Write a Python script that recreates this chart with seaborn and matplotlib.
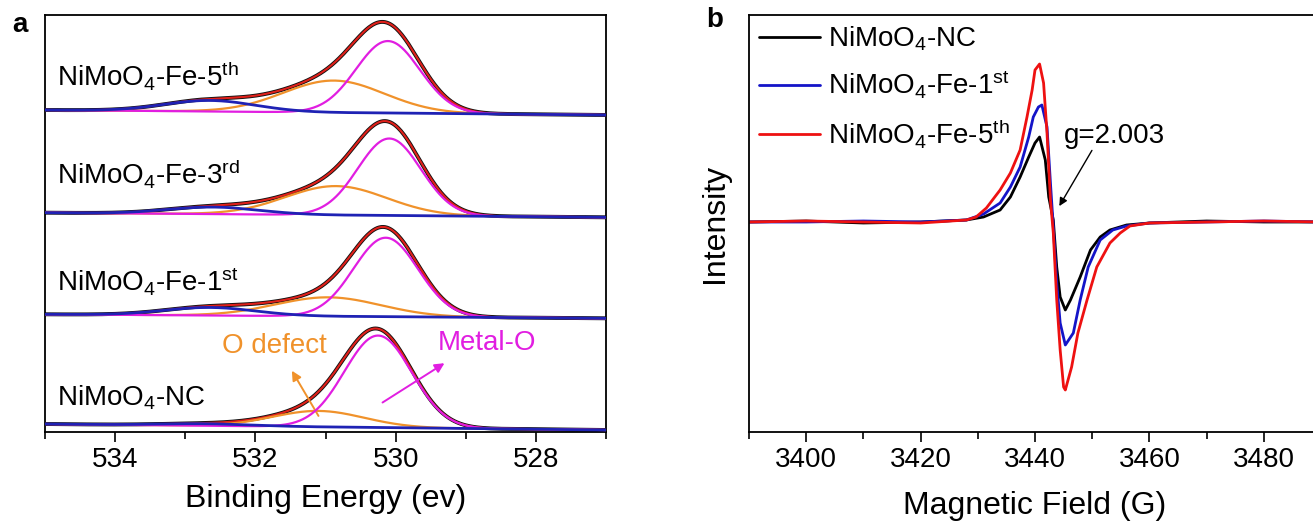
import numpy as np
import pandas as pd
import matplotlib
matplotlib.use("Agg")
import matplotlib.pyplot as plt
import seaborn as sns

# ---------------- Panel a: O 1s XPS peak fits (a.u., stacked) ----------------
samples_a = ["NC", "Fe-1st", "Fe-3rd", "Fe-5th"]
labels_a = [r"NiMoO$_4$-NC",
            r"NiMoO$_4$-Fe-1$^{\mathrm{st}}$",
            r"NiMoO$_4$-Fe-3$^{\mathrm{rd}}$",
            r"NiMoO$_4$-Fe-5$^{\mathrm{th}}$"]
label_y = [26, 141, 249, 347]
# linear background at 535 eV and 527 eV
bg_hi = [8.0, 117.7, 219.3, 322.0]
bg_lo = [2.0, 113.7, 214.7, 317.0]
# Metal-O component
mo_center = [530.25, 530.14, 530.09, 530.11]
mo_height = [92.0, 79.0, 77.0, 72.0]
mo_sigma = [0.48, 0.46, 0.45, 0.455]
# O defect component
od_center = [531.10, 530.96, 530.85, 530.88]
od_height = [16.0, 19.0, 29.0, 32.0]
od_sigma = [0.65, 0.75, 0.72, 0.72]
# adsorbed-oxygen component (drawn with the background)
ad_center = [532.70, 532.65, 532.60, 532.65]
ad_height = [2.0, 8.0, 7.0, 11.0]
ad_sigma = [0.65, 0.65, 0.65, 0.65]

# ---------------- Panel b: EPR spectra ----------------
field_nc = [3390, 3400, 3410, 3420, 3428, 3431, 3433.9, 3435.7, 3437.4, 3438.9,
            3440.0, 3440.8, 3441.8, 3442.4, 3443.2, 3443.8, 3444.4, 3445.3, 3446.2,
            3447.9, 3449.7, 3451.4, 3453.1, 3456, 3460, 3470, 3480, 3490]
int_nc = [0, 1, -1, 0, 2, 5, 12, 25, 45, 65,
          79, 85, 62, 25, 2, -45, -75, -88, -78,
          -55, -28, -15, -8, -3, -1, 1, 0, 0]
field_1st = [3390, 3400, 3410, 3420, 3428, 3431, 3433.9, 3435.7, 3437.4, 3438.9,
             3439.7, 3440.6, 3441.2, 3442.1, 3442.7, 3443.2, 3443.8, 3444.4, 3445.3,
             3446.7, 3447.9, 3449.3, 3451.4, 3453.6, 3456, 3460, 3470, 3480, 3490]
int_1st = [0, 0, 1, 0, 2, 8, 19, 35, 55, 85,
           105, 115, 117, 95, 39, -5, -61, -101, -123,
           -111, -78, -45, -18, -8, -4, -1, 0, 1, 0]
field_5th = [3390, 3400, 3410, 3420, 3428, 3429.7, 3431.5, 3433.9, 3435.7, 3437.4,
             3438.6, 3439.5, 3440.0, 3440.8, 3441.5, 3442.1, 3442.7, 3443.2, 3443.8,
             3444.4, 3445.0, 3445.3, 3446.4, 3447.5, 3449.1, 3450.8, 3453.1, 3454.9,
             3456.6, 3460, 3470, 3480, 3490]
int_5th = [0, 1, 0, -1, 2, 5, 14, 32, 49, 72,
           105, 132, 152, 158, 139, 89, 22, -11, -78,
           -128, -165, -168, -145, -111, -78, -45, -21, -11,
           -4, -1, 0, 1, 0]
labels_b = [r"NiMoO$_4$-NC", r"NiMoO$_4$-Fe-1$^{\mathrm{st}}$", r"NiMoO$_4$-Fe-5$^{\mathrm{th}}$"]
colors_b = ["#000000", "#1414c8", "#ee1111"]

# ---------------- style ----------------
sns.set_theme(style="ticks")
plt.rcParams["font.family"] = ["Liberation Sans", "DejaVu Sans"]
plt.rcParams["mathtext.fontset"] = "custom"
plt.rcParams["mathtext.rm"] = "Liberation Sans"
plt.rcParams["mathtext.it"] = "Liberation Sans:italic"
plt.rcParams["mathtext.bf"] = "Liberation Sans:bold"
plt.rcParams["axes.linewidth"] = 1.3
plt.rcParams["text.color"] = "black"
plt.rcParams["axes.labelcolor"] = "black"
plt.rcParams["xtick.color"] = "black"
plt.rcParams["ytick.color"] = "black"
plt.rcParams["axes.edgecolor"] = "black"
FS = 20

C_BLACK = "#111111"
C_RED = "#e0201a"
C_ORANGE = "#f0922b"
C_MAG = "#e11ee1"
C_BLUE = "#1f22b4"

fig = plt.figure(figsize=(13.13, 5.27), dpi=100)
ax_a = fig.add_axes([45 / 1313, 1 - 432 / 527, 561 / 1313, 417 / 527])
ax_b = fig.add_axes([749 / 1313, 1 - 432 / 527, 572 / 1313, 417 / 527])


def gauss(x, c, h, s):
    return h * np.exp(-(x - c) ** 2 / (2 * s ** 2))


energy = np.linspace(527, 535, 600)
rows = []
for i, name in enumerate(samples_a):
    bg = bg_lo[i] + (bg_hi[i] - bg_lo[i]) * (energy - 527) / 8.0
    mo = gauss(energy, mo_center[i], mo_height[i], mo_sigma[i])
    od = gauss(energy, od_center[i], od_height[i], od_sigma[i])
    ad = gauss(energy, ad_center[i], ad_height[i], ad_sigma[i])
    total = bg + mo + od + ad
    for comp, y in [("raw", total), ("fit", total), ("odef", bg + od),
                    ("metal", bg + mo), ("bg", bg + ad)]:
        rows.append(pd.DataFrame({"E": energy, "I": y, "comp": comp, "sample": name}))
df_a = pd.concat(rows, ignore_index=True)

styles = {"raw": (C_BLACK, 2.8, 1), "fit": (C_RED, 1.5, 2), "odef": (C_ORANGE, 1.6, 3),
          "metal": (C_MAG, 1.6, 4), "bg": (C_BLUE, 2.0, 5)}
for name in samples_a:
    for comp, (col, lw, z) in styles.items():
        sub = df_a[(df_a["sample"] == name) & (df_a["comp"] == comp)]
        sns.lineplot(data=sub, x="E", y="I", ax=ax_a, color=col, lw=lw,
                     sort=False, estimator=None, zorder=z, legend=False)

for txt, y in zip(labels_a, label_y):
    ax_a.text(534.83, y, txt, fontsize=FS, ha="left", va="baseline")

ax_a.text(531.73, 86, "O defect", fontsize=FS, color=C_ORANGE, ha="center", va="center")
ax_a.text(528.69, 89.5, "Metal-O", fontsize=FS, color=C_MAG, ha="center", va="center")
ax_a.annotate("", xy=(531.5, 63.7), xytext=(531.08, 13.7),
              arrowprops=dict(arrowstyle="-|>", color=C_ORANGE, lw=1.4, mutation_scale=14))
ax_a.annotate("", xy=(529.27, 70.3), xytext=(530.22, 28),
              arrowprops=dict(arrowstyle="-|>", color=C_MAG, lw=1.4, mutation_scale=14))

ax_a.set_xlim(535, 527)
ax_a.set_ylim(0, 417)
ax_a.set_xticks([534, 532, 530, 528])
ax_a.set_xticks([535, 533, 531, 529, 527], minor=True)
ax_a.set_yticks([])
ax_a.set_xlabel("Binding Energy (ev)", fontsize=23, labelpad=8)
ax_a.set_ylabel("")
ax_a.tick_params(axis="x", which="major", direction="out", length=7, width=1.2,
                 labelsize=FS, pad=4)
ax_a.tick_params(axis="x", which="minor", direction="out", length=5, width=1.2)
for sp in ax_a.spines.values():
    sp.set_visible(True)

# ---------------- Panel b ----------------
df_b = pd.concat([
    pd.DataFrame({"B": field_nc, "I": int_nc, "sample": labels_b[0]}),
    pd.DataFrame({"B": field_1st, "I": int_1st, "sample": labels_b[1]}),
    pd.DataFrame({"B": field_5th, "I": int_5th, "sample": labels_b[2]}),
], ignore_index=True)
sns.lineplot(data=df_b, x="B", y="I", hue="sample", hue_order=labels_b,
             palette=colors_b, ax=ax_b, lw=2.0, sort=False, estimator=None)

ax_b.set_xlim(3390, 3490)
ax_b.set_ylim(-210, 207)
ax_b.set_xticks([3400, 3420, 3440, 3460, 3480])
ax_b.set_xticks([3390, 3410, 3430, 3450, 3470, 3490], minor=True)
ax_b.set_yticks([])
ax_b.set_xlabel("Magnetic Field (G)", fontsize=23, labelpad=13)
ax_b.set_ylabel("Intensity", fontsize=23, labelpad=14)
ax_b.tick_params(axis="x", which="major", direction="out", length=7, width=1.2,
                 labelsize=FS, pad=4)
ax_b.tick_params(axis="x", which="minor", direction="out", length=5, width=1.2)
ax_b.spines["right"].set_visible(False)
for s in ["top", "left", "bottom"]:
    ax_b.spines[s].set_visible(True)

leg = ax_b.legend(loc="upper left", bbox_to_anchor=(0.0, 1.0), frameon=False,
                  fontsize=FS, handlelength=2.2, handletextpad=0.3,
                  labelspacing=0.57, borderaxespad=0.15, borderpad=0.2)
for line in leg.get_lines():
    line.set_linewidth(2.0)

ax_b.text(3445.1, 79, "g=2.003", fontsize=FS, ha="left", va="baseline")
ax_b.annotate("", xy=(3444.0, 13.5), xytext=(3450.2, 74),
              arrowprops=dict(arrowstyle="-|>", color="black", lw=1.0, mutation_scale=12))

fig.text(12 / 1313, 1 - 25 / 527, "a", fontsize=FS, fontweight="bold", va="center", ha="left")
fig.text(706 / 1313, 1 - 20 / 527, "b", fontsize=FS, fontweight="bold", va="center", ha="left")

fig.savefig("out.png", dpi=100)
